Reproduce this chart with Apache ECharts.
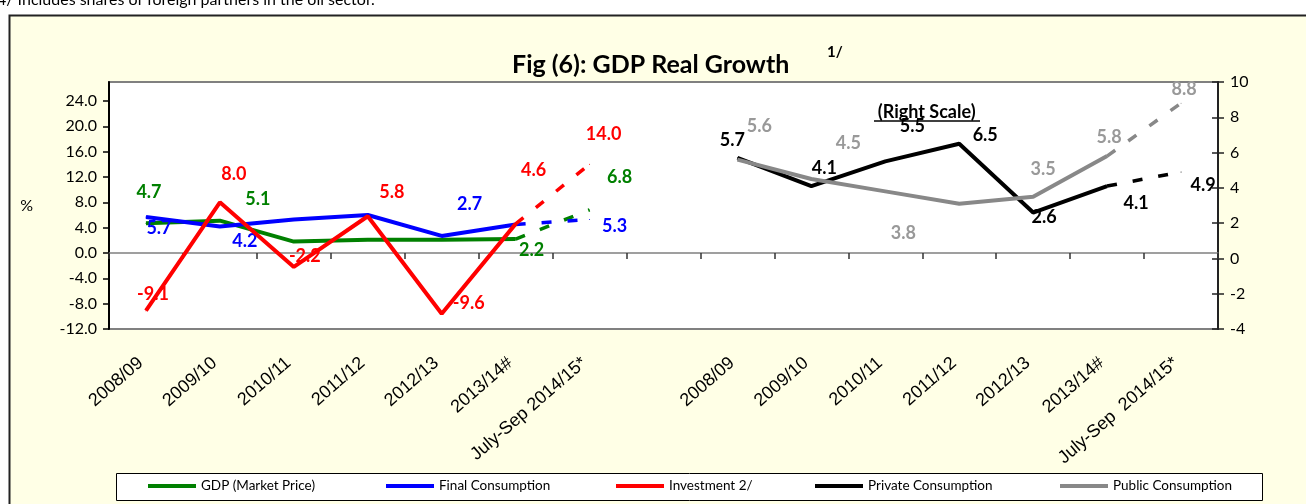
<!DOCTYPE html>
<html><head><meta charset="utf-8">
<script src="https://cdn.jsdelivr.net/npm/echarts@6/dist/echarts.min.js"></script>
<style>html,body{margin:0;padding:0;background:#fff}#c{width:1306px;height:504px}</style>
</head><body><div id="c"></div>
<script>
// ---- data (last value of each series = July-Sep 2014/15* projection, drawn dashed) ----
const periods = ['2008/09','2009/10','2010/11','2011/12','2012/13','2013/14#','July-Sep 2014/15*'];
const periodsRight = ['2008/09','2009/10','2010/11','2011/12','2012/13','2013/14#','July-Sep  2014/15*'];
const gdp         = [4.7, 5.1, 1.8, 2.1, 2.1, 2.2, 6.8];
const finalCons   = [5.7, 4.2, 5.3, 6.0, 2.7, 4.5, 5.3];
const investment  = [-9.1, 8.0, -2.2, 5.8, -9.6, 4.6, 14.0];
const privateCons = [5.7, 4.1, 5.5, 6.5, 2.6, 4.1, 4.9];
const publicCons  = [5.6, 4.5, 3.8, 3.1, 3.5, 5.8, 8.8];
const leftAxisRange  = [-12, 27, 4];
const rightAxisRange = [-4, 10, 2];

// ---- label placement (pixel offsets, null = no label) ----
const offs = {
  gdp:    [[3,-31],[38,-22],null,null,null,[16,11],[30,-33]],
  fin:    [[13,11],[25,15],null,null,[28,-32],null,[25,7]],
  inv:    [[7,-16],[14,-28],[11,-11],[24,-24],[27,-11],[18,-54],[14,-30]],
  pri:    [[-5,-18],[13,-18],[27,-35],[26,-9],[11,5],[29,17],[22,13]],
  pub:    [[22,-33],[37,-36],[18,42],null,[10,-27],[2,-19],[3,-14]]
};

const categories = [...periods, '', ...periodsRight];
const NC = categories.length;
const FONT = 'Lato';

function item(v, off) {
  if (!off) return v;
  return { value: v, label: { show: true, offset: off } };
}
function makeSeries(name, vals, off, start, yIdx, color, labelColor, z) {
  const solid = new Array(NC).fill(null);
  const dash = new Array(NC).fill(null);
  for (let i = 0; i < 6; i++) solid[start + i] = item(vals[i], off[i]);
  dash[start + 5] = vals[5];
  dash[start + 6] = item(vals[6], off[6]);
  const base = {
    type: 'line', name, xAxisIndex: 0, yAxisIndex: yIdx,
    symbol: 'circle', symbolSize: 1, showSymbol: true, showAllSymbol: true,
    itemStyle: { color }, emphasis: { disabled: true }, silent: true, z,
    label: { show: false, position: 'inside', color: labelColor, fontFamily: FONT,
      fontWeight: 'bold', fontSize: 18, formatter: p => Number(p.value).toFixed(1) }
  };
  return [
    Object.assign({}, base, { data: solid, lineStyle: { color, width: 4 } }),
    Object.assign({}, base, { data: dash, lineStyle: { color, width: 3.5, type: [10, 16] } })
  ];
}

const series = [
  ...makeSeries('GDP (Market Price)', gdp, offs.gdp, 0, 0, '#008000', '#008000', 2),
  ...makeSeries('Final Consumption', finalCons, offs.fin, 0, 0, '#0000FF', '#0000FF', 3),
  ...makeSeries('Investment 2/', investment, offs.inv, 0, 0, '#FF0000', '#FF0000', 4),
  ...makeSeries('Private Consumption', privateCons, offs.pri, 8, 1, '#000000', '#000000', 5),
  ...makeSeries('Public Consumption', publicCons, offs.pub, 8, 1, '#888888', '#999999', 6)
];
// separator between the two panels
series[0].clip = false;
series[0].markLine = {
  silent: true, symbol: 'none', label: { show: false }, animation: false,
  lineStyle: { color: '#000', width: 3, type: [10, 5] },
  data: [[{ coord: [7, 27] }, { coord: [7, -13.7] }]]
};

const legendPos = [
  ['GDP (Market Price)', 148], ['Final Consumption', 386], ['Investment 2/', 616],
  ['Private Consumption', 815], ['Public Consumption', 1060]
];
const legends = legendPos.map(([n, x]) => ({
  data: [n], left: x, top: 479, icon: 'rect', itemWidth: 48, itemHeight: 4, padding: 0,
  selectedMode: false, textStyle: { fontFamily: FONT, fontSize: 13.5, color: '#000' }
}));

const chart = echarts.init(document.getElementById('c'), null, { renderer: 'canvas' });
chart.setOption({
  animation: false,
  backgroundColor: '#ffffff',
  title: [
    { text: 'Fig (6): GDP Real Growth', left: 507, top: 47,
      textStyle: { fontFamily: FONT, fontWeight: 'bold', fontSize: 25, color: '#000' } },
    { text: '1/', left: 822, top: 40,
      textStyle: { fontFamily: FONT, fontWeight: 'bold', fontSize: 15, color: '#000' } }
  ],
  legend: legends,
  graphic: [
    { type: 'rect', z: -100, shape: { x: 9.5, y: 15.5, width: 1400, height: 600 },
      style: { fill: '#FFFFE6', stroke: '#222', lineWidth: 2 } },
    { type: 'text', z: 10, style: { text: '4/ Includes shares of foreign partners in the oil sector.',
      x: -3, y: 8, verticalAlign: 'bottom', font: '16px Lato', fill: '#000' } },
    { type: 'rect', z: -50, shape: { x: 116.5, y: 473.5, width: 1146, height: 27 },
      style: { fill: '#fff', stroke: '#000', lineWidth: 1 } },
    { type: 'text', z: 10, style: { text: '(Right Scale)', x: 926.7, y: 111.7, align: 'center',
      verticalAlign: 'middle', font: 'bold 18px Lato', fill: '#000' } },
    { type: 'line', z: 10, shape: { x1: 874, y1: 121, x2: 980, y2: 121 },
      style: { stroke: '#000', lineWidth: 1.3 } }
  ],
  grid: { left: 109, right: 88, top: 82, bottom: 175, show: true, backgroundColor: '#fff',
    borderColor: '#808080', borderWidth: 2, containLabel: false },
  xAxis: [
    { type: 'category', data: categories, position: 'bottom', boundaryGap: true,
      axisLine: { show: true, onZero: true, onZeroAxisIndex: 0, lineStyle: { color: '#808080', width: 1.5 } },
      axisTick: { show: true, length: 6, interval: 0, lineStyle: { color: '#333', width: 1.5 } },
      axisLabel: { show: false }, splitLine: { show: false } },
    { type: 'category', data: categories, position: 'bottom', boundaryGap: true,
      axisLine: { show: false, onZero: false }, axisTick: { show: false },
      axisLabel: { show: true, interval: 0, rotate: 41, margin: 27, padding: [0, 7, 0, 0],
        fontFamily: 'Liberation Sans', fontSize: 18, color: '#000' },
      splitLine: { show: false } }
  ],
  yAxis: [
    { type: 'value', position: 'left', min: leftAxisRange[0], max: leftAxisRange[1], interval: leftAxisRange[2],
      name: '%', nameLocation: 'middle', nameGap: 76, nameRotate: 0,
      nameTextStyle: { fontFamily: FONT, fontSize: 16, color: '#000' },
      axisLine: { show: true, onZero: false, lineStyle: { color: '#000', width: 2 } },
      axisTick: { show: true, length: 6, lineStyle: { color: '#000', width: 1.5 } },
      axisLabel: { fontFamily: FONT, fontSize: 16, color: '#000', margin: 12, showMaxLabel: false,
        formatter: v => (v > 24 ? '' : Number(v).toFixed(1)) },
      splitLine: { show: false } },
    { type: 'value', position: 'right', min: rightAxisRange[0], max: rightAxisRange[1], interval: rightAxisRange[2],
      axisLine: { show: true, onZero: false, lineStyle: { color: '#222', width: 2 } },
      axisTick: { show: true, length: 6, lineStyle: { color: '#222', width: 1.5 } },
      axisLabel: { fontFamily: FONT, fontSize: 16, color: '#000', margin: 12 },
      splitLine: { show: false } },
    { type: 'value', position: 'right', min: rightAxisRange[0], max: rightAxisRange[1], interval: rightAxisRange[2],
      axisLine: { show: false, onZero: false },
      axisTick: { show: true, inside: true, length: 6, lineStyle: { color: '#222', width: 1.5 } },
      axisLabel: { show: false }, splitLine: { show: false } }
  ],
  series
});
</script></body></html>
